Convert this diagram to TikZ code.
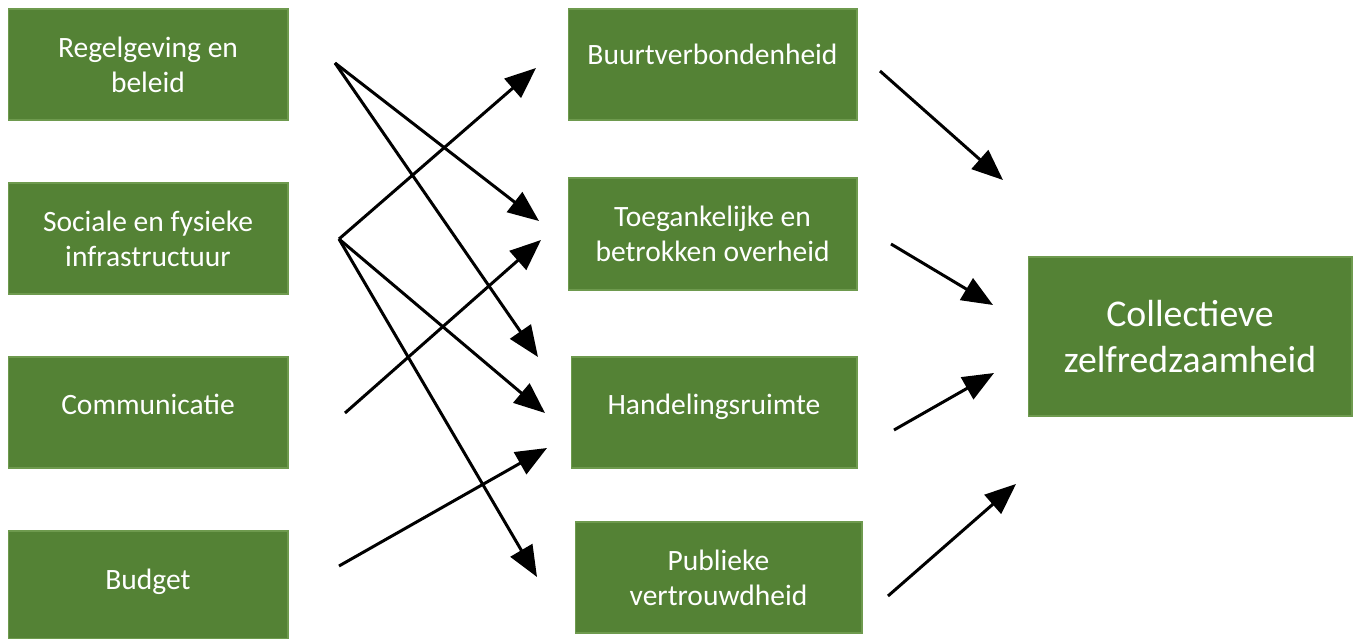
\documentclass[tikz,border=0pt]{standalone}
\usepackage{fontspec}
\setmainfont{Carlito}
\usetikzlibrary{arrows.meta}
\definecolor{boxgreen}{HTML}{548235}
\definecolor{boxedge}{HTML}{6E9A4E}
\tikzset{
  box/.style={draw=boxedge, line width=0.6pt, fill=boxgreen, text=white, align=center,
    font=\fontsize{16.8}{19.8}\selectfont, inner sep=0pt},
  bigbox/.style={box, font=\fontsize{21.5}{25.8}\selectfont},
  arr/.style={line width=1.7pt, -{Triangle[length=0.62cm, width=0.5cm]}, shorten >=0pt}
}
\begin{document}
\begin{tikzpicture}[x=0.02cm, y=-0.02cm]
\useasboundingbox (0,0) rectangle (1360,639);
% left column
\node[box, minimum width=5.6cm, minimum height=2.22cm] (reg) at (148,64.5) {Regelgeving en\\beleid};
\node[box, minimum width=5.6cm, minimum height=2.22cm] (soc) at (148,238.5) {Sociale en fysieke\\infrastructuur};
\node[box, minimum width=5.6cm, minimum height=2.22cm] (com) at (148,412.5) {\raisebox{0.32cm}{Communicatie}};
\node[box, minimum width=5.6cm, minimum height=2.16cm] (bud) at (148,585) {\raisebox{0.23cm}{Budget}};
% middle column
\node[box, minimum width=5.78cm, minimum height=2.22cm] (buu) at (712.5,64.5) {\raisebox{0.4cm}{Buurtverbondenheid}};
\node[box, minimum width=5.78cm, minimum height=2.24cm] (toe) at (712.5,234) {Toegankelijke en\\betrokken overheid};
\node[box, minimum width=5.72cm, minimum height=2.22cm] (han) at (714,412.5) {\raisebox{0.33cm}{Handelingsruimte}};
\node[box, minimum width=5.74cm, minimum height=2.22cm] (pub) at (718.5,577.5) {Publieke\\vertrouwdheid};
% right
\node[bigbox, minimum width=6.48cm, minimum height=3.18cm] (col) at (1190,336.5) {Collectieve\\zelfredzaamheid};
% connector end points
\coordinate (s1) at (335,63);
\coordinate (s2) at (339,239);
\coordinate (s3) at (345,413);
\coordinate (s4) at (339,566);
\coordinate (t1) at (536,68);
\coordinate (t2) at (539,221);
\coordinate (t2b) at (541,240);
\coordinate (t3a) at (538,357);
\coordinate (t3b) at (545,413);
\coordinate (t3c) at (547,448);
\coordinate (t4) at (537,577);
\coordinate (r1s) at (880,71);
\coordinate (r1t) at (1003,180);
\coordinate (r2s) at (891,244);
\coordinate (r2t) at (993,305);
\coordinate (r3s) at (894,430);
\coordinate (r3t) at (994,373);
\coordinate (r4s) at (888,596);
\coordinate (r4t) at (1016,484);
\draw[arr] (s1) -- (t2);
\draw[arr] (s1) -- (t3a);
\draw[arr] (s2) -- (t1);
\draw[arr] (s2) -- (t3b);
\draw[arr] (s2) -- (t4);
\draw[arr] (s3) -- (t2b);
\draw[arr] (s4) -- (t3c);
\draw[arr] (r1s) -- (r1t);
\draw[arr] (r2s) -- (r2t);
\draw[arr] (r3s) -- (r3t);
\draw[arr] (r4s) -- (r4t);
\end{tikzpicture}
\end{document}
